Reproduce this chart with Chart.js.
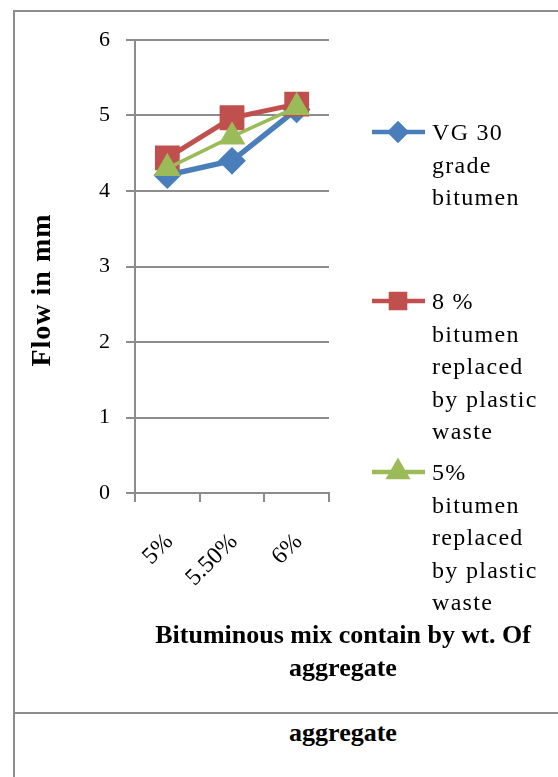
<!DOCTYPE html>
<html>
<head>
<meta charset="utf-8">
<script src="https://cdn.jsdelivr.net/npm/chart.js@4"></script>
<style>
  body { margin: 0; background: #fff; width: 558px; height: 777px; overflow: hidden; position: relative; }
  #frame { position: absolute; left: 13px; top: 10px; width: 600px; height: 800px;
           border-left: 2px solid #8c8c8c; border-top: 2px solid #8c8c8c; }
  #sep { position: absolute; left: 13px; top: 712px; width: 560px; height: 0; border-top: 2px solid #8c8c8c; }
  #wrap { position: absolute; left: 0; top: 0; width: 558px; height: 712px; }
  #below { position: absolute; left: 0; width: 686px; top: 718px; text-align: center;
           font: bold 26px "Liberation Serif", serif; }
</style>
</head>
<body>
<div id="frame"></div>
<div id="sep"></div>
<div id="below">aggregate</div>
<div id="wrap"><canvas id="lineChart"></canvas></div>
<script>
const categories = ['5%', '5.50%', '6%'];
const vg30 = [4.21, 4.40, 5.08];
const plastic8 = [4.44, 4.97, 5.15];
const plastic5 = [4.30, 4.72, 5.11];
const yTicks = [0, 1, 2, 3, 4, 5, 6];

const legendText = [
    ['VG 30', 'grade', 'bitumen'],
    ['8 %', 'bitumen', 'replaced', 'by plastic', 'waste'],
    ['5%', 'bitumen', 'replaced', 'by plastic', 'waste']
];
const legendMarks = [8, 10, 10];

const serif = '"Liberation Serif", "Times New Roman", serif';

// titles + multi-line legend drawn by hand
const extras = {
    id: 'extras',
    afterDraw(chart) {
        const ctx = chart.ctx;
        ctx.save();
        ctx.fillStyle = '#000';
        // y title
        ctx.font = 'bold 28px ' + serif;
        ctx.letterSpacing = '1px';
        ctx.textAlign = 'center';
        ctx.textBaseline = 'middle';
        ctx.save();
        ctx.translate(43, 290);
        ctx.rotate(-Math.PI / 2);
        ctx.fillText('Flow in mm', 0, 0);
        ctx.restore();
        // x title
        ctx.letterSpacing = '0px';
        ctx.textBaseline = 'alphabetic';
        ctx.font = 'bold 26px ' + serif;
        ctx.fillText('Bituminous mix contain by wt. Of', 343, 643);
        ctx.fillText('aggregate', 343, 676);

        // legend
        const tops = [132, 301, 472];
        chart.data.datasets.forEach((ds, i) => {
            const y = tops[i];
            ctx.strokeStyle = ds.borderColor;
            ctx.lineWidth = 4.5;
            ctx.beginPath();
            ctx.moveTo(372, y);
            ctx.lineTo(425, y);
            ctx.stroke();
            ctx.fillStyle = ds.backgroundColor;
            Chart.helpers.drawPoint(ctx, {
                pointStyle: ds.pointStyle, radius: legendMarks[i], borderWidth: 1
            }, 398, y);
            ctx.fillStyle = '#000';
            ctx.font = '24px ' + serif;
            ctx.letterSpacing = '1.3px';
            ctx.textAlign = 'left';
            legendText[i].forEach((t, j) => ctx.fillText(t, 432, y + 8 + j * 32.5));
            ctx.letterSpacing = '0px';
        });
        ctx.restore();
    }
};

document.addEventListener("DOMContentLoaded", function() {
    const ctx = document.getElementById('lineChart').getContext('2d');
    new Chart(ctx, {
        type: 'line',
        data: {
            labels: categories,
            datasets: [{
                label: 'VG 30 grade bitumen',
                data: vg30,
                borderColor: '#4a7ebb',
                backgroundColor: '#4a7ebb',
                borderWidth: 5.5,
                pointStyle: 'rectRot',
                pointRadius: 10,
                order: 2
            }, {
                label: '8 % bitumen replaced by plastic waste',
                data: plastic8,
                borderColor: '#c0504d',
                backgroundColor: '#c0504d',
                borderWidth: 5,
                pointStyle: 'rect',
                pointRadius: 14,
                order: 1
            }, {
                label: '5% bitumen replaced by plastic waste',
                data: plastic5,
                borderColor: '#9bbb59',
                backgroundColor: '#9bbb59',
                borderWidth: 3.5,
                pointStyle: 'triangle',
                pointRadius: 12,
                order: 0
            }]
        },
        options: {
            responsive: true,
            maintainAspectRatio: false,
            animation: false,
            layout: { padding: { left: 0, right: 229, top: 40, bottom: 0 } },
            plugins: { legend: { display: false }, tooltip: { enabled: false } },
            elements: { line: { tension: 0 }, point: { borderWidth: 1 } },
            scales: {
                x: {
                    offset: true,
                    afterFit: s => { s.height = 219; },
                    grid: { offset: true, drawOnChartArea: false, color: '#8c8c8c', lineWidth: 2, tickLength: 9 },
                    border: { color: '#8c8c8c', width: 2 },
                    ticks: { minRotation: 45, maxRotation: 45, padding: 26, labelOffset: 2, color: '#000',
                             font: { family: serif, size: 24 } }
                },
                y: {
                    min: 0, max: 6,
                    afterFit: s => { s.width = 135; },
                    afterBuildTicks: s => { s.ticks = yTicks.map(v => ({ value: v })); },
                    grid: { color: '#8c8c8c', lineWidth: 2, tickLength: 9 },
                    border: { color: '#8c8c8c', width: 2 },
                    ticks: { padding: 16, color: '#000', font: { family: serif, size: 22 } }
                }
            }
        },
        plugins: [extras]
    });
});
</script>
</body>
</html>
